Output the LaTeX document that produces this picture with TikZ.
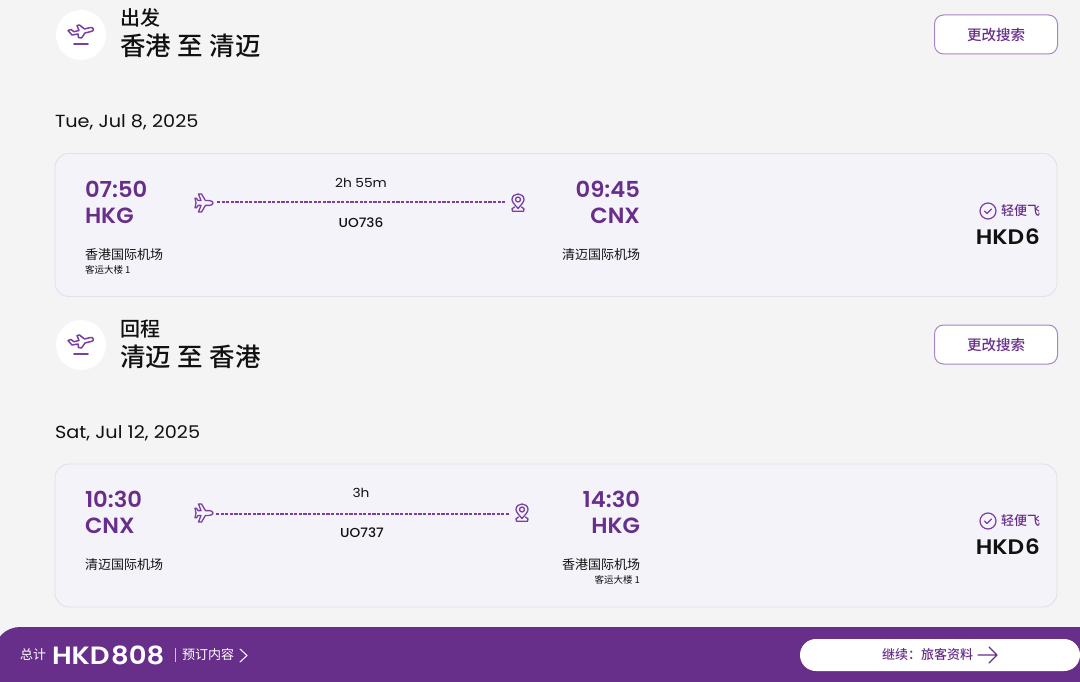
\documentclass[tikz,border=0pt]{standalone}
\usepackage{fontspec}
\setmainfont{Poppins}[FakeStretch=1.1]
\newfontfamily\cjk{Noto Sans CJK SC}
\newfontfamily\cjkm{Noto Sans CJK SC Medium}
\newfontfamily\semi{Poppins SemiBold}[FakeStretch=1.03]
\newfontfamily\semiw{Poppins SemiBold}[FakeStretch=1.1]
\newfontfamily\medi{Poppins Medium}[FakeStretch=1.05]
\definecolor{pagebg}{HTML}{F4F4F4}
\definecolor{cardbg}{HTML}{F5F3FA}
\definecolor{cardline}{HTML}{E2E0E8}
\definecolor{brand}{HTML}{682F8A}
\definecolor{iconc}{HTML}{7A3FA0}
\definecolor{brandline}{HTML}{A985C2}
\definecolor{ink}{HTML}{111111}
\newcommand{\fs}[1]{\fontsize{#1}{#1}\selectfont}
\tikzset{
  x=1pt,y=-1pt,
  txt/.style={inner sep=0pt,outer sep=0pt,text=ink},
  wtxt/.style={txt,anchor=base west},
  etxt/.style={txt,anchor=base east},
  ctxt/.style={txt,anchor=base},
  card/.style={draw=cardline,fill=cardbg,line width=0.9pt,rounded corners=14pt},
  searchbtn/.style={draw=brandline,fill=white,line width=1pt,rounded corners=9pt},
  iconline/.style={draw=iconc,line width=1.3pt,line join=round,line cap=round,fill=none},
  flightline/.style={draw=iconc,line width=1.1pt,dash pattern=on 3.2pt off 1.4pt},
  pics/sideplane/.style={code={
    \draw[iconline] (9,0) .. controls (9,-1.6) and (7,-2.4) .. (5,-2.4) -- (1.5,-2.4) -- (-2.5,-9) -- (-5.5,-9) -- (-3,-2.4) -- (-6,-2.4) -- (-7.5,-4.8) -- (-9,-4.8) -- (-8,0) -- (-9,4.8) -- (-7.5,4.8) -- (-6,2.4) -- (-3,2.4) -- (-5.5,9) -- (-2.5,9) -- (1.5,2.4) -- (5,2.4) .. controls (7,2.4) and (9,1.6) .. (9,0) -- cycle;
  }},
  pics/pinmark/.style={code={
    \draw[iconline] (0,5.5) .. controls (-3,2) and (-6,-1) .. (-6,-3.5) .. controls (-6,-7) and (-3,-9) .. (0,-9) .. controls (3,-9) and (6,-7) .. (6,-3.5) .. controls (6,-1) and (3,2) .. (0,5.5) -- cycle;
    \draw[iconline] (0,-3.5) circle[radius=2.5];
    \draw[iconline] (-3.5,4) .. controls (-6,5) and (-7,6.5) .. (-5.5,8.3) -- (5.5,8.3) .. controls (7,6.5) and (6,5) .. (3.5,4);
  }},
  pics/takeoff/.style={code={
    \draw[iconline,line width=1.5pt] (12.5,-5.5) .. controls (12.5,-7.5) and (10.5,-7.8) .. (9,-7.4) -- (3.5,-6) -- (-1.5,-10) -- (-4,-9.5) -- (-2,-4.5) -- (-7,-3.3) -- (-10,-5.5) -- (-13,-4.5) -- (-9,0) -- (-3,-1) -- (-2.5,2.5) -- (0.5,3) -- (4,-2) -- (10,-3.5) .. controls (11.5,-3.9) and (12.5,-4.5) .. (12.5,-5.5) -- cycle;
    \draw[iconline,line width=1.6pt] (-7,9) -- (7,9);
  }},
  pics/checkmark/.style={code={
    \draw[iconc,line width=1.2pt] (0,0) circle[radius=8];
    \draw[iconc,line width=1.1pt,line cap=round,line join=round] (-3.5,0) -- (-1,2.5) -- (3.5,-2);
  }}
}
\begin{document}
\begin{tikzpicture}
\useasboundingbox (0,0) rectangle (1080,682);
\fill[pagebg] (0,0) rectangle (1080,682);

% Outbound header
\node[circle,fill=white,minimum size=50pt,inner sep=0pt] (ic1) at (81,35) {};
\pic at (81,35) {takeoff};
\node[wtxt,font=\cjkm\fs{20}] (t1) at (120,26) {出发};
\node[wtxt,font=\cjkm\fs{25.5}] (r1) at (120,56) {香港\hspace{1pt} 至\hspace{1pt} 清迈};
\node[searchbtn,minimum width=123pt,minimum height=39pt,inner sep=0pt] (b1) at (996,34.5) {};
\node[txt,text=brand,font=\cjkm\fs{14.5}] (b1t) at (996,35) {更改搜索};
\node[wtxt,font=\fs{17.5}] (d1) at (55,127.5) {Tue, Jul 8, 2025};

% Outbound card
\node[card,minimum width=1002pt,minimum height=143pt,inner sep=0pt] (c1) at (556,225) {};
\node[wtxt,text=brand,font=\semi\fs{22}] (a1) at (85,197) {07:50};
\node[wtxt,text=brand,font=\semi\fs{22}] (a2) at (85,223) {HKG};
\node[wtxt,font=\cjk\fs{13}] (a3) at (85,259) {香港国际机场};
\node[wtxt,font=\cjk\fs{9.5}] (a4) at (85,273.5) {客运大楼 1};
\coordinate (p1) at (204,203);
\pic at (p1) {sideplane};
\coordinate (q1) at (518,203);
\pic at (q1) {pinmark};
\draw[flightline] ([xshift=13pt,yshift=1pt]p1) -- ([xshift=-13pt,yshift=1pt]q1);
\node[ctxt,font=\fs{12.5}] (m1) at (361,187.5) {2h 55m};
\node[ctxt,font=\medi\fs{13}] (f1) at (361,227) {UO736};
\node[etxt,text=brand,font=\semi\fs{22}] (e1) at (640,197) {09:45};
\node[etxt,text=brand,font=\semi\fs{22}] (e2) at (640,223) {CNX};
\node[etxt,font=\cjk\fs{13}] (e3) at (640,259) {清迈国际机场};
\pic at (988,211) {checkmark};
\node[etxt,text=brand,font=\cjkm\fs{13}] (l1) at (1040,215) {轻便飞};
\node[etxt,font=\semiw\fs{21}] (h1) at (1040,244) {HKD\kern1pt 6};

% Return header
\node[circle,fill=white,minimum size=50pt,inner sep=0pt] (ic2) at (81,345) {};
\pic at (81,345) {takeoff};
\node[wtxt,font=\cjkm\fs{20}] (t2) at (120,336) {回程};
\node[wtxt,font=\cjkm\fs{25.5}] (r2) at (120,366) {清迈\hspace{1pt} 至\hspace{1pt} 香港};
\node[searchbtn,minimum width=123pt,minimum height=39pt,inner sep=0pt] (b2) at (996,344.5) {};
\node[txt,text=brand,font=\cjkm\fs{14.5}] (b2t) at (996,345) {更改搜索};
\node[wtxt,font=\fs{17.5}] (d2) at (55,438) {Sat, Jul 12, 2025};

% Return card
\node[card,minimum width=1002pt,minimum height=143pt,inner sep=0pt] (c2) at (556,535.5) {};
\node[wtxt,text=brand,font=\semi\fs{22}] (g1) at (85,507) {10:30};
\node[wtxt,text=brand,font=\semi\fs{22}] (g2) at (85,533) {CNX};
\node[wtxt,font=\cjk\fs{13}] (g3) at (85,569) {清迈国际机场};
\coordinate (p2) at (204,513);
\pic at (p2) {sideplane};
\coordinate (q2) at (522,513);
\pic at (q2) {pinmark};
\draw[flightline] ([xshift=12pt,yshift=-1pt]p2) -- ([xshift=-12pt,yshift=-1pt]q2);
\node[ctxt,font=\fs{12.5}] (m2) at (361,497.5) {3h};
\node[ctxt,font=\medi\fs{13}] (f2) at (362,537) {UO737};
\node[etxt,text=brand,font=\semi\fs{22}] (j1) at (640,507) {14:30};
\node[etxt,text=brand,font=\semi\fs{22}] (j2) at (640,533) {HKG};
\node[etxt,font=\cjk\fs{13}] (j3) at (640,569) {香港国际机场};
\node[etxt,font=\cjk\fs{9.5}] (j4) at (640,583.5) {客运大楼 1};
\pic at (988,521) {checkmark};
\node[etxt,text=brand,font=\cjkm\fs{13}] (l2) at (1040,525) {轻便飞};
\node[etxt,font=\semiw\fs{21}] (h2) at (1040,554) {HKD\kern1pt 6};

% Bottom bar
\fill[brand,rounded corners=26pt] (-6,627) rectangle (1120,720);
\node[wtxt,text=white,font=\cjk\fs{13}] (tot) at (20,659) {总计};
\node[wtxt,text=white,font=\semiw\fs{25}] (amt) at (52,664) {HKD\kern1.5pt 808};
\draw[white!70!brand,line width=0.7pt] (175.5,648) -- (175.5,662);
\node[wtxt,text=white,font=\cjk\fs{13}] (vw) at (182,659) {预订内容};
\draw[white,line width=1pt,line join=round,line cap=round] (240,649) -- (247,655.5) -- (240,662);
\node[fill=white,rounded corners=16pt,minimum width=280pt,minimum height=32pt,inner sep=0pt] (go) at (940,655) {};
\node[wtxt,text=brand,font=\cjkm\fs{13}] (got) at (882,659) {继续：旅客资料};
\draw[brand,line width=1.1pt,line cap=round,line join=round] (978,655) -- (997,655) (989,647) -- (997,655) -- (989,663);
\end{tikzpicture}
\end{document}
